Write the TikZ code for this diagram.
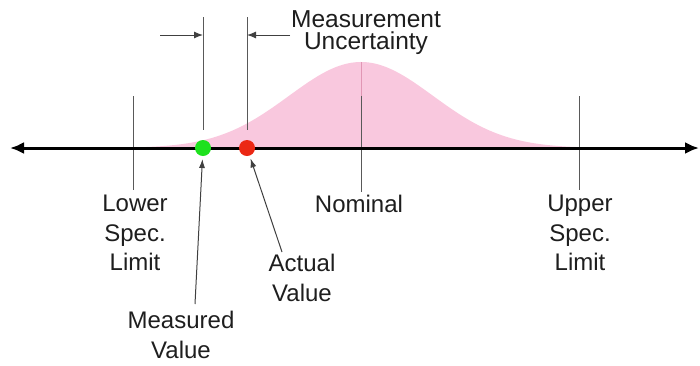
\documentclass[tikz,border=0pt]{standalone}
\usepackage{fontspec}
\setmainfont{Liberation Sans}
\usetikzlibrary{arrows.meta}
\definecolor{bellpink}{RGB}{249,200,222}
\definecolor{bellline}{RGB}{225,150,180}
\definecolor{dotgreen}{RGB}{30,225,30}
\definecolor{dotred}{RGB}{235,40,20}
\definecolor{txt}{RGB}{30,30,30}
\begin{document}
\begin{tikzpicture}[x=1pt,y=-1pt,
  lbl/.style={font=\fontsize{24}{29.5}\selectfont, align=center, inner sep=0pt, text=txt},
  guide/.style={draw=black!65, line width=1pt},
  dot/.style={circle, inner sep=0pt, minimum size=16pt},
  ptr/.style={draw=black!75, line width=1pt, -{Latex[length=9pt,width=6pt]}},
  dimarrow/.style={draw=black!75, line width=1pt, -{Latex[length=9pt,width=7pt]}},
  axis/.style={line width=3pt, {Latex[length=14pt,width=12pt]}-{Latex[length=14pt,width=12pt]}}]
\useasboundingbox (0,0) rectangle (700,365);
% bell curve
\fill[bellpink] plot[domain=-3.17:3.03, samples=150] ({361+72*\x},{148-86*exp(-\x*\x/2)}) -- cycle;
% guide coordinates
\coordinate (lslTop) at (133,96);  \coordinate (lslBot) at (133,190);
\coordinate (nomPeak) at (361,62); \coordinate (nomTop) at (361,96); \coordinate (nomBot) at (361,192);
\coordinate (uslTop) at (579,96);  \coordinate (uslBot) at (579,190);
\coordinate (mTop) at (203,17);    \coordinate (mBot) at (203,130);
\coordinate (aTop) at (247,17);    \coordinate (aBot) at (247,130);
\coordinate (dimL) at (160,35);    \coordinate (dimLtip) at (203,35);
\coordinate (dimR) at (290,35);    \coordinate (dimRtip) at (247,35);
\coordinate (axL) at (10,148);     \coordinate (axR) at (699,148);
% guides
\draw[guide] (lslTop) -- (lslBot);
\draw[bellline, line width=1pt] (nomPeak) -- (nomTop);
\draw[guide] (nomTop) -- (nomBot);
\draw[guide] (uslTop) -- (uslBot);
\draw[guide] (mTop) -- (mBot);
\draw[guide] (aTop) -- (aBot);
\draw[dimarrow] (dimL) -- (dimLtip);
\draw[dimarrow] (dimR) -- (dimRtip);
% axis
\draw[axis] (axL) -- (axR);
% dots
\node[dot, fill=dotgreen] (meas) at (203,148) {};
\node[dot, fill=dotred] (act) at (247,148) {};
% labels
\node[lbl, anchor=north, font=\fontsize{24.5}{22.5}\selectfont] (unc) at (366,10) {Measurement\\Uncertainty};
\node[lbl, anchor=north] (lsl) at (135,195) {Lower\\Spec.\\Limit};
\node[lbl, anchor=north] (nom) at (359,195) {Nominal};
\node[lbl, anchor=north] (usl) at (580,195) {Upper\\Spec.\\Limit};
\node[lbl, anchor=north] (actl) at (302,254) {Actual\\Value};
\node[lbl, anchor=north] (measl) at (181,311) {Measured\\Value};
% pointers
\coordinate (measTail) at (195,304);
\coordinate (actTail) at (282,252);
\draw[ptr, shorten >=11pt] (measTail) -- (meas.center);
\draw[ptr, shorten >=11pt] (actTail) -- (act.center);
\end{tikzpicture}
\end{document}
